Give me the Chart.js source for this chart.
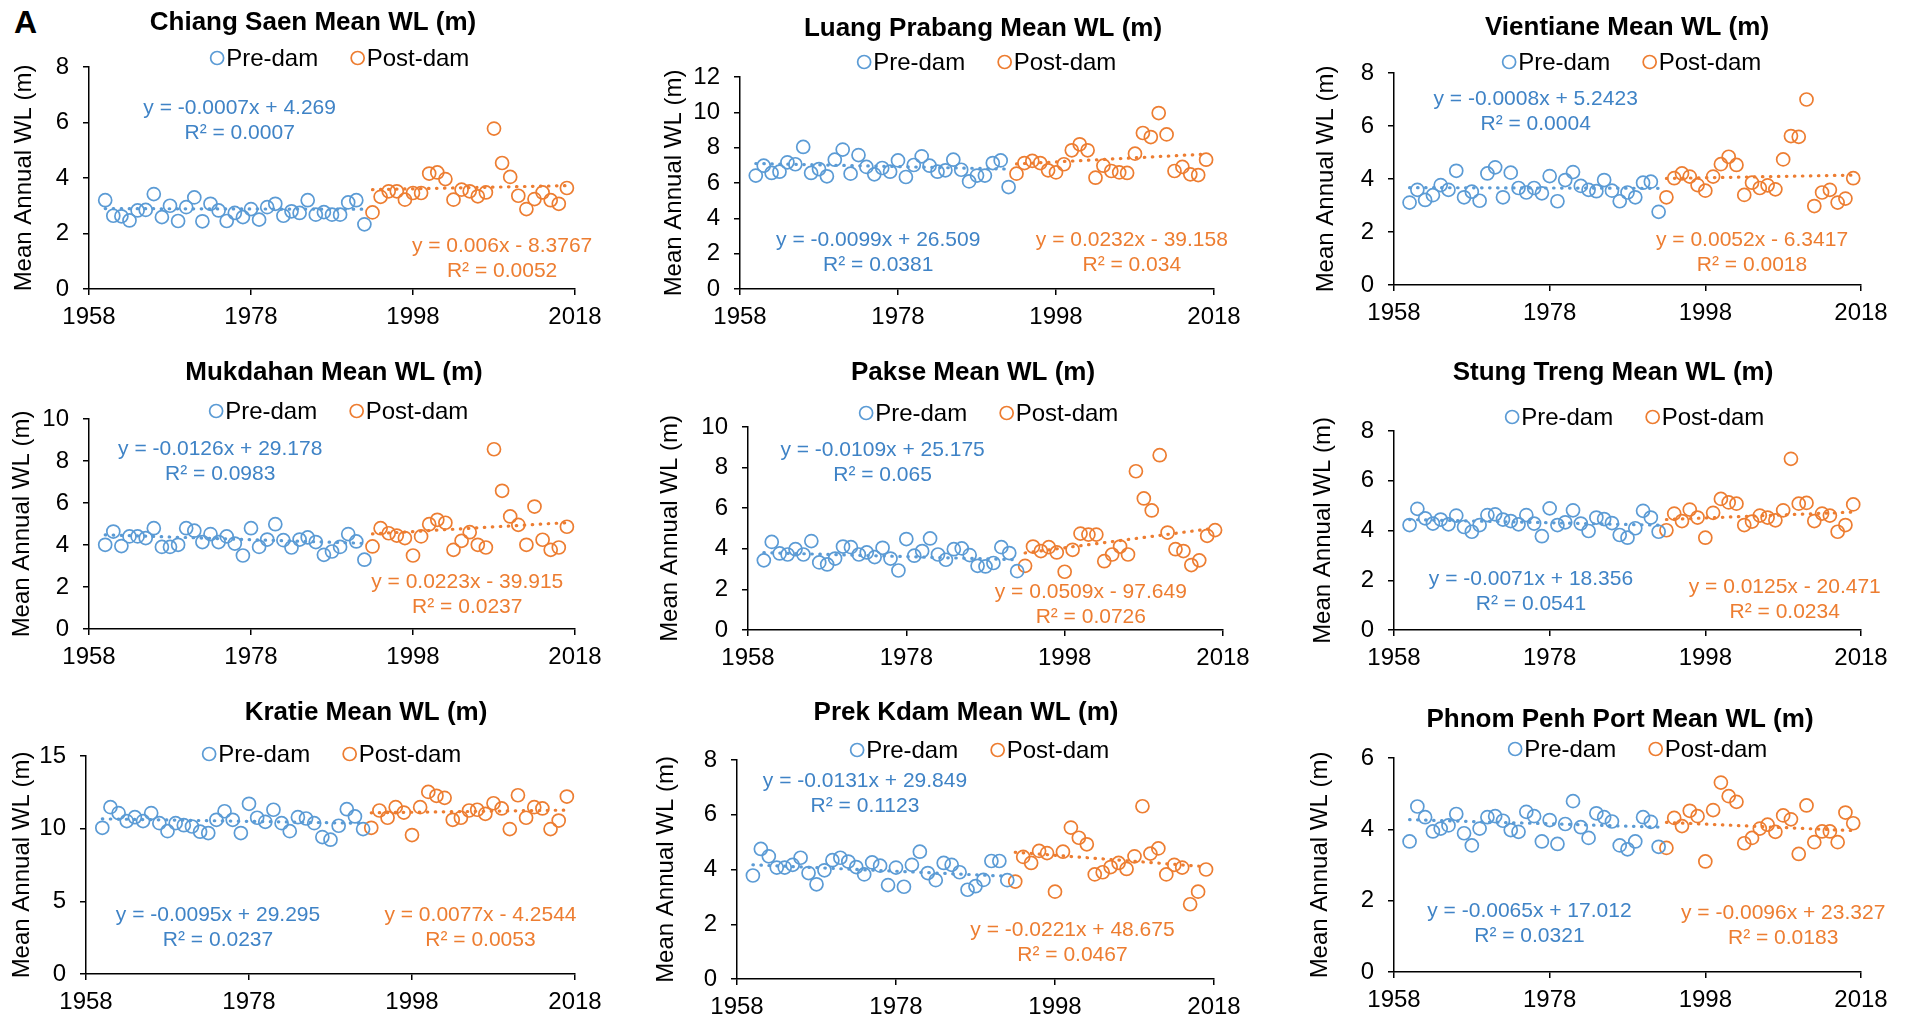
<!DOCTYPE html>
<html>
<head>
<meta charset="utf-8">
<title>Mean annual water level, Mekong stations</title>
<script src="https://cdn.jsdelivr.net/npm/chart.js@4.4.1/dist/chart.umd.min.js"></script>
<style>
  html, body { margin: 0; padding: 0; background: #fff; }
  #grid { position: relative; width: 1917px; height: 1020px; overflow: hidden; }
  #grid canvas { position: absolute; }
  #tag { position: absolute; left: 14px; top: 4px; font: bold 32px "Liberation Sans", Arial, sans-serif; color: #000; }
</style>
</head>
<body>
<div id="grid"><div id="tag">A</div></div>
<script>
// years on the x axis, split at the first dam
const preYears = [1960, 1961, 1962, 1963, 1964, 1965, 1966, 1967, 1968, 1969, 1970, 1971, 1972, 1973, 1974, 1975, 1976,
  1977, 1978, 1979, 1980, 1981, 1982, 1983, 1984, 1985, 1986, 1987, 1988, 1989, 1990, 1991, 1992];
const postYears = [1993, 1994, 1995, 1996, 1997, 1998, 1999, 2000, 2001, 2002, 2003, 2004, 2005, 2006, 2007, 2008,
  2009, 2010, 2011, 2012, 2013, 2014, 2015, 2016, 2017];

const stations = ['Chiang Saen', 'Luang Prabang', 'Vientiane', 'Mukdahan', 'Pakse', 'Stung Treng', 'Kratie', 'Prek Kdam', 'Phnom Penh Port'];

// mean annual water level (m)
const chiangSaenPre = [3.20, 2.64, 2.62, 2.47, 2.83, 2.85, 3.42, 2.59, 3.00, 2.45, 2.95, 3.30, 2.44, 3.07, 2.83, 2.45, 2.74, 2.59, 2.88, 2.50, 2.95, 3.07, 2.64, 2.80, 2.74, 3.20, 2.68, 2.77, 2.68, 2.68, 3.12, 3.20, 2.33];
const chiangSaenPost = [2.76, 3.32, 3.52, 3.52, 3.22, 3.46, 3.46, 4.16, 4.20, 3.96, 3.22, 3.58, 3.52, 3.34, 3.48, 5.78, 4.54, 4.04, 3.36, 2.88, 3.24, 3.48, 3.20, 3.07, 3.64];
const luangPrabangPre = [6.42, 6.98, 6.57, 6.64, 7.17, 7.06, 8.04, 6.57, 6.79, 6.38, 7.32, 7.89, 6.53, 7.58, 6.91, 6.49, 6.85, 6.64, 7.28, 6.34, 7.02, 7.51, 6.98, 6.64, 6.72, 7.32, 6.75, 6.09, 6.42, 6.42, 7.13, 7.28, 5.77];
const luangPrabangPost = [6.53, 7.13, 7.25, 7.13, 6.72, 6.60, 7.06, 7.85, 8.19, 7.85, 6.30, 6.98, 6.68, 6.60, 6.57, 7.66, 8.83, 8.60, 9.96, 8.75, 6.68, 6.91, 6.49, 6.45, 7.32];
const vientianePre = [3.11, 3.59, 3.21, 3.39, 3.77, 3.59, 4.31, 3.31, 3.52, 3.18, 4.21, 4.44, 3.31, 4.24, 3.66, 3.49, 3.66, 3.46, 4.11, 3.16, 3.96, 4.26, 3.74, 3.59, 3.54, 3.96, 3.56, 3.16, 3.49, 3.31, 3.86, 3.90, 2.76];
const vientianePost = [3.31, 4.03, 4.21, 4.09, 3.77, 3.56, 4.09, 4.56, 4.84, 4.53, 3.40, 3.86, 3.66, 3.76, 3.61, 4.74, 5.62, 5.59, 7.00, 2.98, 3.49, 3.59, 3.11, 3.26, 4.03];
const mukdahanPre = [4.01, 4.64, 3.95, 4.41, 4.41, 4.33, 4.80, 3.91, 3.91, 4.01, 4.80, 4.68, 4.14, 4.52, 4.14, 4.41, 4.07, 3.50, 4.80, 3.91, 4.26, 4.99, 4.23, 3.88, 4.26, 4.36, 4.14, 3.53, 3.69, 3.91, 4.52, 4.17, 3.30];
const mukdahanPost = [3.93, 4.80, 4.56, 4.45, 4.33, 3.50, 4.41, 4.99, 5.20, 5.06, 3.77, 4.20, 4.61, 4.01, 3.88, 8.56, 6.58, 5.36, 4.96, 4.01, 5.83, 4.25, 3.77, 3.88, 4.87];
const paksePre = [3.43, 4.34, 3.77, 3.72, 3.98, 3.72, 4.38, 3.33, 3.23, 3.52, 4.11, 4.08, 3.72, 3.82, 3.59, 4.05, 3.52, 2.93, 4.48, 3.66, 3.89, 4.51, 3.72, 3.46, 3.98, 4.02, 3.69, 3.16, 3.13, 3.30, 4.08, 3.79, 2.90];
const paksePost = [3.16, 4.11, 3.89, 4.08, 3.82, 2.87, 3.95, 4.75, 4.70, 4.70, 3.39, 3.72, 4.11, 3.72, 7.82, 6.48, 5.89, 8.61, 4.80, 3.98, 3.89, 3.20, 3.43, 4.64, 4.92];
const stungTrengPre = [4.22, 4.87, 4.49, 4.28, 4.44, 4.25, 4.60, 4.14, 3.95, 4.22, 4.62, 4.65, 4.44, 4.38, 4.25, 4.62, 4.28, 3.77, 4.89, 4.22, 4.33, 4.81, 4.28, 3.98, 4.52, 4.46, 4.30, 3.82, 3.71, 4.09, 4.79, 4.52, 3.95];
const stungTrengPost = [4.01, 4.68, 4.38, 4.84, 4.52, 3.71, 4.71, 5.27, 5.13, 5.08, 4.22, 4.36, 4.60, 4.52, 4.41, 4.81, 6.88, 5.08, 5.11, 4.38, 4.68, 4.60, 3.95, 4.22, 5.05];
const kratiePre = [10.06, 11.48, 11.07, 10.52, 10.79, 10.52, 11.07, 10.38, 9.83, 10.38, 10.24, 10.15, 9.79, 9.70, 10.61, 11.20, 10.61, 9.70, 11.71, 10.75, 10.47, 11.30, 10.38, 9.83, 10.79, 10.70, 10.38, 9.42, 9.24, 10.20, 11.34, 10.84, 9.97];
const kratiePost = [10.06, 11.25, 10.75, 11.48, 11.11, 9.56, 11.48, 12.53, 12.26, 12.12, 10.61, 10.75, 11.25, 11.30, 11.02, 11.75, 11.39, 9.97, 12.30, 10.75, 11.48, 11.39, 9.97, 10.56, 12.21];
const prekKdamPre = [3.78, 4.75, 4.48, 4.07, 4.07, 4.17, 4.43, 3.87, 3.46, 3.97, 4.34, 4.43, 4.29, 4.09, 3.82, 4.26, 4.14, 3.43, 4.07, 3.37, 4.17, 4.65, 3.87, 3.61, 4.24, 4.17, 3.90, 3.26, 3.39, 3.62, 4.31, 4.31, 3.61];
const prekKdamPost = [3.56, 4.46, 4.24, 4.68, 4.60, 3.19, 4.65, 5.53, 5.16, 4.92, 3.82, 3.90, 4.09, 4.24, 4.02, 4.48, 6.31, 4.58, 4.77, 3.82, 4.17, 4.07, 2.73, 3.19, 4.00];
const phnomPenhPre = [3.66, 4.64, 4.34, 3.94, 4.02, 4.11, 4.43, 3.89, 3.55, 4.02, 4.34, 4.37, 4.24, 3.98, 3.93, 4.49, 4.37, 3.66, 4.26, 3.59, 4.15, 4.79, 4.06, 3.76, 4.45, 4.34, 4.22, 3.55, 3.44, 3.66, 4.34, 4.21, 3.51];
const phnomPenhPost = [3.48, 4.32, 4.09, 4.52, 4.37, 3.10, 4.54, 5.31, 4.93, 4.77, 3.61, 3.76, 4.02, 4.13, 3.93, 4.39, 4.28, 3.31, 4.67, 3.64, 3.94, 3.94, 3.64, 4.47, 4.17];

const preWL = [chiangSaenPre, luangPrabangPre, vientianePre, mukdahanPre, paksePre, stungTrengPre, kratiePre, prekKdamPre, phnomPenhPre];
const postWL = [chiangSaenPost, luangPrabangPost, vientianePost, mukdahanPost, paksePost, stungTrengPost, kratiePost, prekKdamPost, phnomPenhPost];

// linear fits (x = year)
const preSlope = [-0.0007, -0.0099, -0.0008, -0.0126, -0.0109, -0.0071, -0.0095, -0.0131, -0.0065];
const preIntercept = [4.269, 26.509, 5.2423, 29.178, 25.175, 18.356, 29.295, 29.849, 17.012];
const preR2 = ['0.0007', '0.0381', '0.0004', '0.0983', '0.065', '0.0541', '0.0237', '0.1123', '0.0321'];
const postSlope = [0.006, 0.0232, 0.0052, 0.0223, 0.0509, 0.0125, 0.0077, -0.0221, -0.0096];
const postIntercept = [-8.3767, -39.158, -6.3417, -39.915, -97.649, -20.471, -4.2544, 48.675, 23.327];
const postR2 = ['0.0052', '0.034', '0.0018', '0.0237', '0.0726', '0.0234', '0.0053', '0.0467', '0.0183'];

// y axis range per station
const yMax = [8, 12, 8, 10, 10, 8, 15, 8, 6];
const yStep = [2, 2, 2, 2, 2, 2, 5, 2, 2];

const BLUE = '#5B9BD5';
const ORANGE = '#ED7D31';
const FONT = '"Liberation Sans", Arial, sans-serif';

// panel geometry: plot box edges, header spots, equation anchors (in data units)
const panels = [
  { left: 89, right: 64, top: 67, bottom: 51, yPad: 10, titleX: 313, titleY: 23, legendX: 340, legendY: 58, preAt: [1976.6, 6.52], postAt: [2009, 1.56] },
  { left: 101, right: 64, top: 77, bottom: 51, yPad: 21, titleX: 344, titleY: 29, legendX: 348, legendY: 62, preAt: [1975.5, 2.79], postAt: [2007.6, 2.79] },
  { left: 116, right: 56, top: 73, bottom: 55, yPad: 34, titleX: 349, titleY: 28, legendX: 354, legendY: 62, preAt: [1976.2, 7.03], postAt: [2004, 1.68] },
  { left: 89, right: 64, top: 79, bottom: 51, yPad: 8, titleX: 334, titleY: 33, legendX: 339, legendY: 71, preAt: [1974.2, 8.56], postAt: [2004.7, 2.22] },
  { left: 109, right: 55, top: 87, bottom: 50, yPad: 17, titleX: 334, titleY: 33, legendX: 350, legendY: 73, preAt: [1975, 8.84], postAt: [2001.3, 1.85] },
  { left: 116, right: 56, top: 91, bottom: 50, yPad: 31, titleX: 335, titleY: 33, legendX: 357, legendY: 77, preAt: [1975.6, 2.05], postAt: [2008.2, 1.73] },
  { left: 86, right: 64, top: 76, bottom: 46, yPad: 8, titleX: 366, titleY: 33, legendX: 332, legendY: 74, preAt: [1974.2, 4.07], postAt: [2006.4, 4.02] },
  { left: 98, right: 64, top: 80, bottom: 41, yPad: 13, titleX: 327, titleY: 33, legendX: 341, legendY: 70, preAt: [1974.1, 7.21], postAt: [2000.2, 1.79] },
  { left: 116, right: 56, top: 78, bottom: 48, yPad: 28, titleX: 342, titleY: 40, legendX: 360, legendY: 69, preAt: [1975.4, 1.70], postAt: [2008, 1.65] }
];

function eqText(slope, intercept) {
  const sign = intercept < 0 ? '-' : '+';
  return 'y = ' + slope + 'x ' + sign + ' ' + Math.abs(intercept);
}

// station title plus the two-item legend above the plot
const headerPlugin = {
  id: 'header',
  afterDraw(chart, args, o) {
    const ctx = chart.ctx;
    ctx.save();
    ctx.fillStyle = '#000';
    ctx.textBaseline = 'middle';
    ctx.textAlign = 'center';
    ctx.font = 'bold 26px ' + FONT;
    ctx.fillText(o.title, o.titleX, o.titleY);

    ctx.font = '24px ' + FONT;
    const r = 6.5, gap = 2.5, space = 33;
    const items = [['Pre-dam', BLUE], ['Post-dam', ORANGE]];
    const widths = items.map(it => ctx.measureText(it[0]).width);
    let total = 0;
    items.forEach((it, i) => { total += 2 * r + gap + widths[i]; });
    total += space;
    let x = o.legendX - total / 2;
    ctx.textAlign = 'left';
    items.forEach((it, i) => {
      ctx.beginPath();
      ctx.arc(x + r, o.legendY, r, 0, Math.PI * 2);
      ctx.lineWidth = 1.7;
      ctx.strokeStyle = it[1];
      ctx.stroke();
      ctx.fillStyle = '#000';
      ctx.fillText(it[0], x + 2 * r + gap, o.legendY + 1);
      x += 2 * r + gap + widths[i] + space;
    });
    ctx.restore();
  }
};

// trendline equations, anchored to data positions
const eqPlugin = {
  id: 'eqLabels',
  afterDatasetsDraw(chart, args, o) {
    const {ctx, scales} = chart;
    ctx.save();
    ctx.font = '21px ' + FONT;
    ctx.textAlign = 'center';
    ctx.textBaseline = 'middle';
    o.items.forEach(it => {
      const px = scales.x.getPixelForValue(it.at[0]);
      const py = scales.y.getPixelForValue(it.at[1]);
      ctx.fillStyle = it.color;
      ctx.fillText(it.lines[0], px, py);
      ctx.fillText(it.lines[1], px, py + 25);
    });
    ctx.restore();
  }
};

const grid = document.getElementById('grid');

stations.forEach((name, i) => {
  const p = panels[i];
  const canvas = document.createElement('canvas');
  canvas.width = 639;
  canvas.height = 340;
  canvas.style.left = (i % 3) * 639 + 'px';
  canvas.style.top = Math.floor(i / 3) * 340 + 'px';
  grid.appendChild(canvas);

  const pre = preYears.map((yr, k) => ({ x: yr, y: preWL[i][k] }));
  const post = postYears.map((yr, k) => ({ x: yr, y: postWL[i][k] }));
  const y0 = preYears[0], y1 = preYears[preYears.length - 1];
  const z0 = postYears[0], z1 = postYears[postYears.length - 1];
  const preTrend = [
    { x: y0, y: preSlope[i] * y0 + preIntercept[i] },
    { x: y1, y: preSlope[i] * y1 + preIntercept[i] }
  ];
  const postTrend = [
    { x: z0, y: postSlope[i] * z0 + postIntercept[i] },
    { x: z1, y: postSlope[i] * z1 + postIntercept[i] }
  ];

  const trendStyle = {
    showLine: true, pointRadius: 0, pointHoverRadius: 0, borderWidth: 3.2,
    borderDash: [0.5, 7.5], borderCapStyle: 'round', fill: false
  };
  const pointStyle = {
    pointRadius: 6.5, pointHoverRadius: 6.5, pointBorderWidth: 1.7,
    backgroundColor: 'rgba(0,0,0,0)', pointBackgroundColor: 'rgba(0,0,0,0)'
  };

  new Chart(canvas, {
    type: 'scatter',
    data: {
      datasets: [
        Object.assign({ label: 'Pre-dam trend', data: preTrend, borderColor: BLUE }, trendStyle),
        Object.assign({ label: 'Post-dam trend', data: postTrend, borderColor: ORANGE }, trendStyle),
        Object.assign({ label: 'Pre-dam', data: pre, borderColor: BLUE, pointBorderColor: BLUE }, pointStyle),
        Object.assign({ label: 'Post-dam', data: post, borderColor: ORANGE, pointBorderColor: ORANGE }, pointStyle)
      ]
    },
    options: {
      responsive: false,
      animation: false,
      devicePixelRatio: 1,
      layout: { padding: { left: 0, top: p.top, right: p.right, bottom: 0 } },
      plugins: {
        legend: { display: false },
        tooltip: { enabled: false },
        header: { title: name + ' Mean WL (m)', titleX: p.titleX, titleY: p.titleY, legendX: p.legendX, legendY: p.legendY },
        eqLabels: {
          items: [
            { at: p.preAt, color: '#3F83C6', lines: [eqText(preSlope[i], preIntercept[i]), 'R² = ' + preR2[i]] },
            { at: p.postAt, color: ORANGE, lines: [eqText(postSlope[i], postIntercept[i]), 'R² = ' + postR2[i]] }
          ]
        }
      },
      scales: {
        x: {
          type: 'linear', min: 1958, max: 2018,
          afterFit(s) { s.height = p.bottom; s.paddingLeft = 0; s.paddingRight = 0; },
          ticks: { stepSize: 20, color: '#000', font: { family: FONT, size: 24 }, padding: 8, callback: v => String(v) },
          grid: { display: true, drawOnChartArea: false, drawTicks: true, tickLength: 6, color: '#000', lineWidth: 1.5 },
          border: { display: true, color: '#000', width: 1.5 }
        },
        y: {
          min: 0, max: yMax[i],
          afterFit(s) { s.width = p.left; s.paddingTop = 0; s.paddingBottom = 0; },
          ticks: { stepSize: yStep[i], color: '#000', font: { family: FONT, size: 24 }, padding: 14 },
          grid: { display: true, drawOnChartArea: false, drawTicks: true, tickLength: 6, color: '#000', lineWidth: 1.5 },
          border: { display: true, color: '#000', width: 1.5 },
          title: { display: true, text: 'Mean Annual WL (m)', color: '#000', font: { family: FONT, size: 24 }, padding: { top: p.yPad, bottom: 0 } }
        }
      }
    },
    plugins: [headerPlugin, eqPlugin]
  });
});
</script>
</body>
</html>
